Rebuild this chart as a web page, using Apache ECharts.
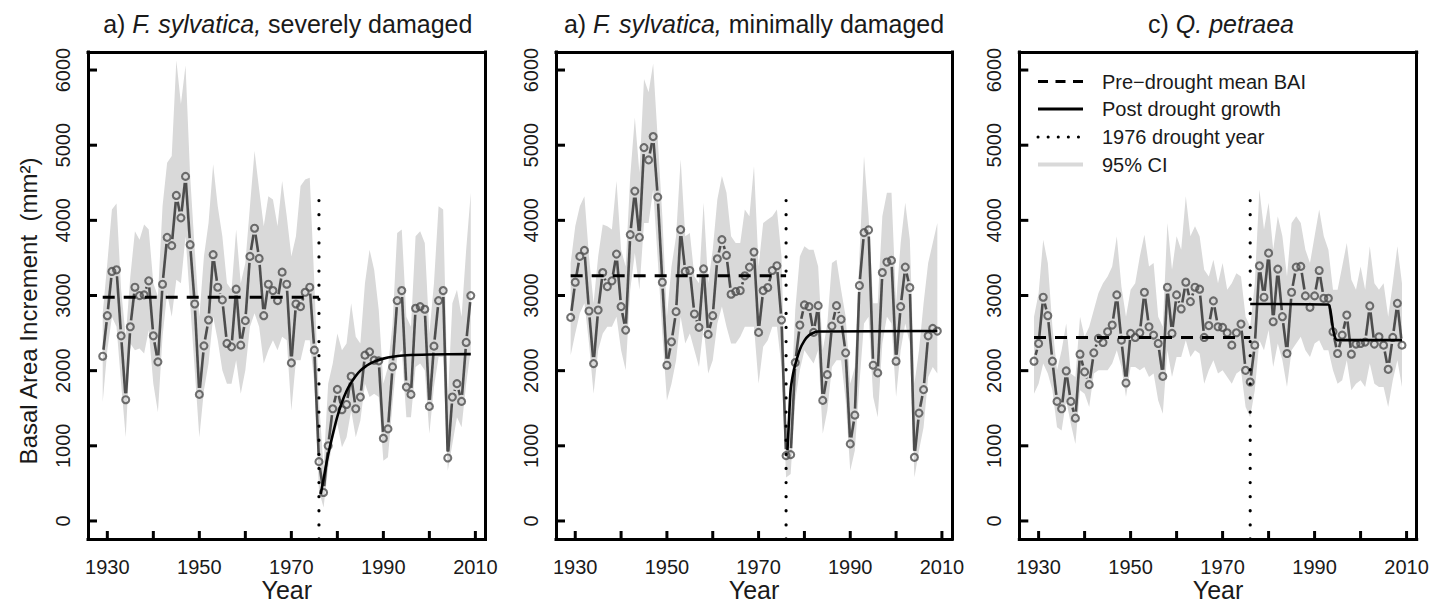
<!DOCTYPE html>
<html><head><meta charset="utf-8">
<script src="https://cdn.jsdelivr.net/npm/echarts@6/dist/echarts.min.js"></script>
<style>html,body{margin:0;padding:0;background:#fff}#c{width:1447px;height:605px}</style>
</head><body><div id="c"></div>
<script>
const years = [1929,1930,1931,1932,1933,1934,1935,1936,1937,1938,
 1939,1940,1941,1942,1943,1944,1945,1946,1947,1948,
 1949,1950,1951,1952,1953,1954,1955,1956,1957,1958,
 1959,1960,1961,1962,1963,1964,1965,1966,1967,1968,
 1969,1970,1971,1972,1973,1974,1975,1976,1977,1978,
 1979,1980,1981,1982,1983,1984,1985,1986,1987,1988,
 1989,1990,1991,1992,1993,1994,1995,1996,1997,1998,
 1999,2000,2001,2002,2003,2004,2005,2006,2007,2008,2009];

// a) F. sylvatica, severely damaged
const sevVals = [2192,2731,3320,3342,2464,1613,2584,3110,2999,3008,
 3195,2464,2117,3150,3774,3663,4331,4033,4585,3676,
 2887,1684,2330,2674,3543,3110,2941,2362,2317,3084,
 2339,2665,3520,3895,3493,2731,3150,3066,2932,3311,
 3150,2103,2887,2852,3043,3110,2273,789,379,1000,
 1493,1751,1480,1550,1925,1493,1649,2206,2250,2139,
 2130,1100,1225,2050,2932,3066,1782,1684,2830,2852,
 2817,1524,2326,2932,3066,838,1649,1827,1591,2375,2999];
const sevUp = [2763,3431,4144,4224,3075,2451,3253,3854,3743,3944,
 3877,3164,2986,4189,4768,4857,6127,5548,6060,4590,
 3609,2718,3520,3966,4746,4189,3788,3164,3075,3877,
 3164,3431,4189,4924,4411,3921,4322,4278,3921,4523,
 4055,3520,3788,4456,4545,4567,3164,1604,713,1827,
 2094,2495,2273,2362,2896,2451,2362,3164,3609,3342,
 2807,1827,2050,2629,3832,3877,2718,2584,3788,3854,
 3698,2495,3164,4189,4144,1604,2896,3075,2718,3609,4367];
const sevLo = [1582,2273,2718,2584,1827,1114,2362,2273,2295,2228,
 2540,1827,1448,2451,3030,2718,3208,3164,3788,2896,
 2005,1114,1738,2094,2718,2406,2005,1827,1827,2139,
 1693,2005,2584,2763,2584,2094,2273,2406,2273,2451,
 2406,1470,2139,2139,2406,2406,1827,401,178,713,
 1069,1292,980,1114,1470,1114,1337,1827,1649,1693,
 1649,802,847,1560,2183,2273,1381,1381,2050,2094,
 2005,1159,1782,2183,2183,668,1025,1381,1248,1827,2273];
const sevMean = 2977;
const sevFitYears = [1976.4,1977,1978,1979,1980,1981,1982,1983,1984,1985,1986,1987,1988,1990,1992,1995,2000,2009];
const sevFitVals  = [360,560,880,1150,1390,1580,1730,1840,1930,2000,2050,2090,2120,2160,2185,2205,2215,2220];

// b) F. sylvatica, minimally damaged
const minVals = [2709,3177,3520,3600,2794,2094,2807,3306,3119,3195,
 3551,2852,2540,3810,4389,3774,4968,4804,5115,4309,
 3177,2072,2384,2785,3877,3320,3333,2754,2576,3355,
 2482,2731,3489,3743,3534,3017,3052,3066,3262,3378,
 3578,2509,3066,3106,3333,3396,2674,869,882,2108,
 2607,2874,2852,2509,2865,1604,1947,2593,2865,2683,
 2237,1025,1408,3133,3837,3872,2072,1970,3306,3445,
 3467,2126,2852,3378,3106,847,1435,1747,2464,2562,2527];
const minUp = [3431,3921,4189,4322,3520,2896,3520,3944,3921,3877,
 4523,3609,3387,4590,5369,4634,5882,5704,6082,5080,
 4055,2718,3387,3788,4812,3788,3832,3253,3164,4233,
 3164,3609,4278,4590,4367,3788,3698,3698,4144,4055,
 4723,3387,3966,4010,4055,4144,3520,1248,1470,2807,
 3520,3654,3609,3609,3387,2273,2629,3431,3476,3075,
 2718,1827,2050,3520,4857,4055,2896,2896,4055,4367,
 4367,2896,3698,4233,3743,1827,2273,2896,3431,3698,3966];
const minLo = [2206,2495,2763,2896,2362,1693,2273,2495,2584,2584,
 2718,2273,2005,3075,3565,3075,3966,3966,4411,3476,
 2495,1604,1827,2139,2718,2362,2495,2273,2050,2584,
 1961,2139,2629,2852,2584,2362,2362,2451,2584,2584,
 2584,1827,2317,2406,2584,2584,2050,579,624,1604,
 2005,2273,2183,2094,2273,1159,1470,2050,2139,2139,
 1604,668,936,1827,2629,2718,1649,1381,2362,2718,
 2629,1649,2273,2629,2362,579,936,1248,1916,2050,1961];
const minMean = 3262;
const minFitYears = [1976.3,1976.6,1977,1977.5,1978,1979,1980,1981,1982,1983,2009];
const minFitVals  = [940,1300,1750,1950,2080,2280,2400,2470,2505,2520,2527];

// c) Q. petraea
const petVals = [2126,2362,2977,2731,2126,1591,1493,1996,1591,1368,
 2219,1983,1814,2237,2429,2375,2518,2607,3008,2406,
 1836,2495,2442,2504,3043,2584,2473,2362,1925,3110,
 2495,3008,2821,3177,2919,3110,3084,2442,2600,2928,
 2584,2575,2504,2339,2504,2620,2005,1849,2339,3395,
 2977,3565,2651,3351,2718,2228,3043,3378,3387,2995,
 2843,2995,3333,2963,2963,2518,2228,2473,2740,2219,
 2353,2362,2380,2861,2353,2451,2339,2018,2442,2896,2339];
const petUp = [2718,3030,3743,3431,2584,2005,2273,2629,1961,1916,
 2718,2451,2584,2807,3030,3164,3253,3387,3788,3119,
 2718,3075,3164,3520,3810,3387,3431,2718,2584,3966,
 3342,3788,3609,4322,3788,3921,3788,3342,3253,3476,
 3164,3431,3075,3164,3297,3253,2718,2584,3164,4411,
 3877,4233,3609,4055,3788,3253,3966,4055,3966,3609,
 3431,3788,4144,3788,3609,3075,3075,3387,3698,3208,
 3075,3387,3075,3654,3164,3075,3164,2718,3164,3654,3164];
const petLo = [1693,1827,2094,1961,1738,1248,1203,1604,1292,1025,
 1738,1693,1515,1961,2005,2005,2005,2094,2273,2050,
 1649,2050,2050,2005,2050,1916,1961,1604,1426,2273,
 1916,2183,2183,2406,2183,2273,2228,1827,2005,2139,
 1961,2005,1916,1827,1961,2005,1515,1381,1738,2406,
 2273,2540,2050,2362,2139,1782,2273,2362,2451,2273,
 2183,2362,2406,2273,2273,2005,1827,1872,2139,1738,
 1827,1872,1782,2094,1827,1782,1782,1515,1872,2139,1782];
const petMean = 2442;
const petFitYears = [1976,1993,1993.5,1994,1994.5,1995,2009];
const petFitVals  = [2887,2880,2780,2560,2430,2406,2406];

const droughtYear = 1976;
const droughtTop = 4345;
const meanStart = 1929;
const xTicks = [1930,1940,1950,1960,1970,1980,1990,2000,2010];
const xLabels = [1930,1950,1970,1990,2010];
const yTicks = [0,1000,2000,3000,4000,5000,6000];
const titles = [
  ['a) ','F. sylvatica,',' severely damaged'],
  ['a) ','F. sylvatica,',' minimally damaged'],
  ['c) ','Q. petraea','']
];
const xTitle = 'Year';
const yTitle = 'Basal Area Increment  (mm\u00b2)';
const legendItems = ['Pre\u2212drought mean BAI','Post drought growth','1976 drought year','95% CI'];

const FONT = '"Liberation Sans", Arial, sans-serif';
const TXT = '#1a1a1a';
const BAND = '#d9d9d9';
const PT = '#4d4d4d';
const XMIN = 1925.8, XMAX = 2012.2, YMIN = -240, YMAX = 6240;

const panels = [
  {vals: sevVals, up: sevUp, lo: sevLo, mean: sevMean, fx: sevFitYears, fy: sevFitVals, smooth: 0.3},
  {vals: minVals, up: minUp, lo: minLo, mean: minMean, fx: minFitYears, fy: minFitVals, smooth: 0.3},
  {vals: petVals, up: petUp, lo: petLo, mean: petMean, fx: petFitYears, fy: petFitVals, smooth: 0.2}
];
const gridPos = [
  {left: 88, width: 397.5, tshift: -4},
  {left: 556, width: 396, tshift: -5},
  {left: 1019.3, width: 397.4, tshift: -2}
];
const plain = v => String(v);

const grids = [], xAxes = [], yAxes = [], series = [], titleArr = [];
const graphic = [];
panels.forEach((p, i) => {
  const g = gridPos[i];
  grids.push({left: g.left, top: 52, width: g.width, height: 487, show: false,
    containLabel: false, outerBoundsMode: 'none'});
  const boxLine = {show: true, onZero: false, lineStyle: {color: '#000', width: 3, cap: 'square'}};
  xAxes.push({type: 'value', gridIndex: i, position: 'bottom', min: XMIN, max: XMAX,
    axisLine: boxLine, splitLine: {show: false}, axisTick: {show: false},
    axisLabel: {customValues: xLabels, formatter: plain, fontSize: 20, margin: 18, color: TXT, fontFamily: FONT}});
  xAxes.push({type: 'value', gridIndex: i, position: 'top', min: XMIN, max: XMAX,
    axisLine: boxLine, axisTick: {show: false}, axisLabel: {show: false}, splitLine: {show: false}});
  yAxes.push({type: 'value', gridIndex: i, position: 'left', min: YMIN, max: YMAX,
    axisLine: boxLine, splitLine: {show: false}, axisTick: {show: false},
    axisLabel: {customValues: yTicks, formatter: plain, rotate: 90, fontSize: 20, margin: 15, color: TXT, fontFamily: FONT}});
  yAxes.push({type: 'value', gridIndex: i, position: 'right', min: YMIN, max: YMAX,
    axisLine: boxLine, axisTick: {show: false}, axisLabel: {show: false}, splitLine: {show: false}});
  const xi = 2 * i, yi = 2 * i;
  const t = titles[i];
  titleArr.push({text: '{n|' + t[0] + '}{i|' + t[1] + '}' + (t[2] ? '{n|' + t[2] + '}' : ''),
    left: g.left + g.width / 2 + g.tshift, textAlign: 'center', top: 6,
    textStyle: {fontSize: 25, fontWeight: 'normal', color: TXT, fontFamily: FONT,
      rich: {n: {fontSize: 25, color: TXT, fontFamily: FONT},
             i: {fontSize: 25, color: TXT, fontFamily: FONT, fontStyle: 'italic'}}}});
  // x-axis title under each panel
  graphic.push({type: 'text', x: g.left + g.width / 2, y: 590,
    style: {text: xTitle, fontSize: 25, fill: TXT, fontFamily: FONT, align: 'center', verticalAlign: 'middle'}});

  // 95% CI band
  series.push({type: 'custom', xAxisIndex: xi, yAxisIndex: yi, silent: true, z: 1,
    data: [[years[0], p.vals[0]]],
    renderItem: (params, api) => {
      const pts = [];
      for (let k = 0; k < years.length; k++) pts.push(api.coord([years[k], p.up[k]]));
      for (let k = years.length - 1; k >= 0; k--) pts.push(api.coord([years[k], p.lo[k]]));
      return {type: 'polygon', shape: {points: pts}, style: {fill: BAND}};
    }});
  // segments (R type = "b": gaps around points)
  const seg = [];
  for (let k = 0; k < years.length - 1; k++) seg.push([years[k], p.vals[k], years[k + 1], p.vals[k + 1]]);
  series.push({type: 'custom', xAxisIndex: xi, yAxisIndex: yi, silent: true, z: 3,
    dimensions: ['x1', 'y1', 'x2', 'y2'], encode: {x: [0, 2], y: [1, 3]},
    data: seg,
    renderItem: (params, api) => {
      const a = api.coord([api.value(0), api.value(1)]);
      const b = api.coord([api.value(2), api.value(3)]);
      const dx = b[0] - a[0], dy = b[1] - a[1];
      const L = Math.hypot(dx, dy), gap = 6.5;
      if (L <= 2 * gap + 0.5) return null;
      const ux = dx / L, uy = dy / L;
      return {type: 'line', shape: {x1: a[0] + ux * gap, y1: a[1] + uy * gap, x2: b[0] - ux * gap, y2: b[1] - uy * gap},
        style: {stroke: PT, lineWidth: 2.6}};
    }});
  // open circles
  series.push({type: 'scatter', xAxisIndex: xi, yAxisIndex: yi, silent: true, z: 4,
    symbol: 'circle', symbolSize: 7,
    itemStyle: {color: 'rgba(0,0,0,0)', borderColor: PT, borderWidth: 2.1},
    data: years.map((y, k) => [y, p.vals[k]])});
  // pre-drought mean
  series.push({type: 'line', xAxisIndex: xi, yAxisIndex: yi, silent: true, z: 5, symbol: 'none',
    lineStyle: {color: '#000', width: 3, type: [12, 9]},
    data: [[meanStart, p.mean], [droughtYear, p.mean]]});
  // post-drought growth
  series.push({type: 'line', xAxisIndex: xi, yAxisIndex: yi, silent: true, z: 6, symbol: 'none',
    smooth: p.smooth, lineStyle: {color: '#000', width: 2.6},
    data: p.fx.map((x, k) => [x, p.fy[k]])});
  // 1976 drought year
  series.push({type: 'line', xAxisIndex: xi, yAxisIndex: yi, silent: true, z: 7, symbol: 'none',
    lineStyle: {color: '#000', width: 3.2, type: [0.1, 14], cap: 'round'},
    data: [[droughtYear, YMIN], [droughtYear, droughtTop]]});
  // inward axis ticks (R tcl > 0), placed through the axis scales
  series.push({type: 'custom', xAxisIndex: xi, yAxisIndex: yi, silent: true, z: 8,
    data: [[XMIN, YMIN]],
    renderItem: (params, api) => {
      const cs = params.coordSys;
      const bottom = cs.y + cs.height, left = cs.x;
      const children = [];
      xTicks.forEach(v => {
        const px = api.coord([v, YMIN])[0];
        children.push({type: 'line', shape: {x1: px, y1: bottom, x2: px, y2: bottom - 8}, style: {stroke: '#000', lineWidth: 3}});
      });
      yTicks.forEach(v => {
        const py = api.coord([XMIN, v])[1];
        children.push({type: 'line', shape: {x1: left, y1: py, x2: left + 9, y2: py}, style: {stroke: '#000', lineWidth: 3}});
      });
      return {type: 'group', children: children};
    }});
});

// y-axis title and legend
graphic.push({type: 'text', x: 28, y: 311, rotation: Math.PI / 2,
  style: {text: yTitle, fontSize: 24, fill: TXT, fontFamily: FONT, align: 'center', verticalAlign: 'middle'}});
const legY = [81.5, 109, 137, 164.5];
const lx1 = 1038, lx2 = 1083;
graphic.push({type: 'line', shape: {x1: lx1, y1: legY[0], x2: lx2, y2: legY[0]}, style: {stroke: '#000', lineWidth: 3, lineDash: [10, 7.5]}});
graphic.push({type: 'line', shape: {x1: lx1, y1: legY[1], x2: lx2, y2: legY[1]}, style: {stroke: '#000', lineWidth: 3}});
graphic.push({type: 'line', shape: {x1: lx1, y1: legY[2], x2: lx2, y2: legY[2]}, style: {stroke: '#000', lineWidth: 3, lineDash: [0.1, 10], lineCap: 'round'}});
graphic.push({type: 'line', shape: {x1: lx1, y1: legY[3], x2: lx2, y2: legY[3]}, style: {stroke: BAND, lineWidth: 4}});
legendItems.forEach((s, k) => {
  graphic.push({type: 'text', x: 1102, y: legY[k], style: {text: s, fontSize: 20, fill: TXT, fontFamily: FONT, verticalAlign: 'middle', align: 'left'}});
});

const chart = echarts.init(document.getElementById('c'), null, {renderer: 'svg'});
chart.setOption({
  animation: false,
  backgroundColor: '#fff',
  title: titleArr,
  grid: grids, xAxis: xAxes, yAxis: yAxes,
  series: series,
  graphic: graphic
});
</script>
</body></html>
